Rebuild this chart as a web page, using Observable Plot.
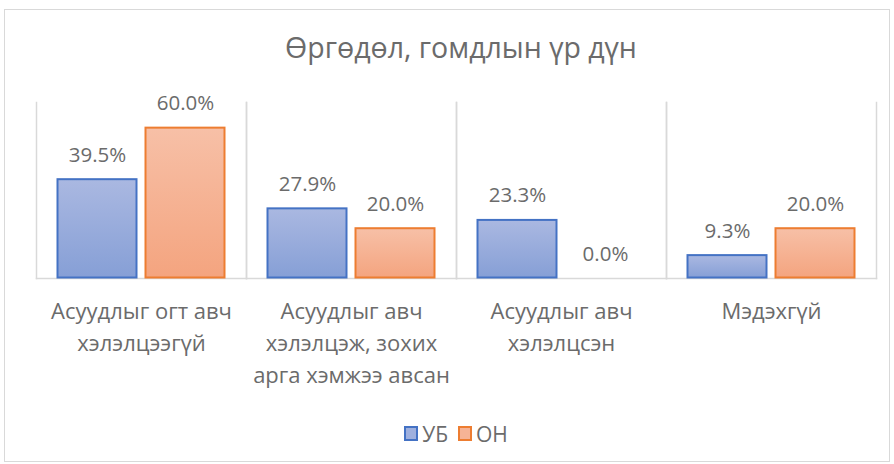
<!DOCTYPE html>
<html>
<head>
<meta charset="utf-8">
<script src="https://cdn.jsdelivr.net/npm/d3@7"></script>
<script src="https://cdn.jsdelivr.net/npm/@observablehq/plot@0.6"></script>
<style>
  html, body { margin: 0; padding: 0; background: #fff; }
  body { width: 894px; height: 464px; position: relative; overflow: hidden; font-family: "Open Sans", "Liberation Sans", Arial, sans-serif; color: #6b6b6b; }
  #border { position: absolute; left: 4px; top: 9px; width: 884px; height: 451px; border: 1px solid #d9d9d9; }
  #title { position: absolute; left: 14px; top: 30px; width: 894px; text-align: center; font-size: 28.5px; color: #6b6b6b; line-height: 1.2; }
  #chart { position: absolute; left: 0; top: 80px; }
  #legend { position: absolute; left: 14px; top: 419px; width: 894px; text-align: center; font-size: 21px; color: #6b6b6b; line-height: 28px; }
  #legend span.item { display: inline-flex; align-items: center; margin: 0 10px 0 0; }
  #legend span.sw { display: inline-block; width: 10px; height: 11px; margin-right: 4px; border: 2px solid; }
</style>
</head>
<body>
<svg width="0" height="0" style="position:absolute">
  <defs>
    <linearGradient id="gb" x1="0" y1="0" x2="0" y2="1">
      <stop offset="0" stop-color="#aab8e1"/>
      <stop offset="1" stop-color="#869fd6"/>
    </linearGradient>
    <linearGradient id="go" x1="0" y1="0" x2="0" y2="1">
      <stop offset="0" stop-color="#f7c0a7"/>
      <stop offset="1" stop-color="#f4a47f"/>
    </linearGradient>
  </defs>
</svg>
<div id="border"></div>
<div id="title">Өргөдөл, гомдлын үр дүн</div>
<div id="chart"></div>
<div id="legend"></div>
<script>
const categories = [
  "Асуудлыг огт авч хэлэлцээгүй",
  "Асуудлыг авч хэлэлцэж, зохих арга хэмжээ авсан",
  "Асуудлыг авч хэлэлцсэн",
  "Мэдэхгүй"
];
const tickLabels = [
  "Асуудлыг огт авч\nхэлэлцээгүй",
  "Асуудлыг авч\nхэлэлцэж, зохих\nарга хэмжээ авсан",
  "Асуудлыг авч\nхэлэлцсэн",
  "Мэдэхгүй"
];
const seriesNames = ["УБ", "ОН"];
const ubValues = [0.395, 0.279, 0.233, 0.093];
const onValues = [0.600, 0.200, 0.000, 0.200];
const seriesFill = ["url(#gb)", "url(#go)"];
const seriesStroke = ["#4472c4", "#ed7d31"];

const ubData = categories.map((c, i) => ({cat: c, series: seriesNames[0], value: ubValues[i]}));
const onData = categories.map((c, i) => ({cat: c, series: seriesNames[1], value: onValues[i]}));
const all = ubData.concat(onData);
const labelOf = new Map(categories.map((c, i) => [c, tickLabels[i]]));

const chart = Plot.plot({
  width: 894,
  height: 330,
  marginLeft: 35,
  marginRight: 17,
  marginTop: 22,
  marginBottom: 132,
  style: {fontFamily: "'Open Sans', 'Liberation Sans', Arial, sans-serif", color: "#6b6b6b", background: "transparent"},
  fx: {domain: categories, padding: 0, label: null},
  x: {domain: seriesNames, paddingInner: 0.09, paddingOuter: 0.225, axis: null},
  y: {domain: [0, 0.7], axis: null},
  marks: [
    Plot.frame({anchor: "left", stroke: "#d9d9d9", strokeWidth: 1.5}),
    Plot.frame({anchor: "right", stroke: "#d9d9d9", strokeWidth: 1.5}),
    Plot.frame({anchor: "bottom", stroke: "#d9d9d9", strokeWidth: 1.5}),
    Plot.barY(ubData, {fx: "cat", x: "series", y: "value", fill: seriesFill[0], stroke: seriesStroke[0], strokeWidth: 2, inset: 0.5}),
    Plot.barY(onData, {fx: "cat", x: "series", y: "value", fill: seriesFill[1], stroke: seriesStroke[1], strokeWidth: 2, inset: 0.5}),
    Plot.text(all, {fx: "cat", x: "series", y: "value", text: d => (d.value * 100).toFixed(1) + "%", dy: -24, fontSize: 20.5, fill: "#6b6b6b"}),
    Plot.axisFx({anchor: "bottom", tickSize: 0, tickPadding: 18, fontSize: 22, lineHeight: 1.45, lineAnchor: "top", tickFormat: c => labelOf.get(c), label: null, fill: "#6b6b6b"})
  ]
});
document.getElementById("chart").appendChild(chart);

const legend = document.getElementById("legend");
seriesNames.forEach((s, i) => {
  const item = document.createElement("span");
  item.className = "item";
  const sw = document.createElement("span");
  sw.className = "sw";
  sw.style.borderColor = seriesStroke[i];
  sw.style.background = i === 0 ? "#9fb0de" : "#f6b396";
  item.appendChild(sw);
  item.appendChild(document.createTextNode(s));
  legend.appendChild(item);
});
</script>
</body>
</html>
